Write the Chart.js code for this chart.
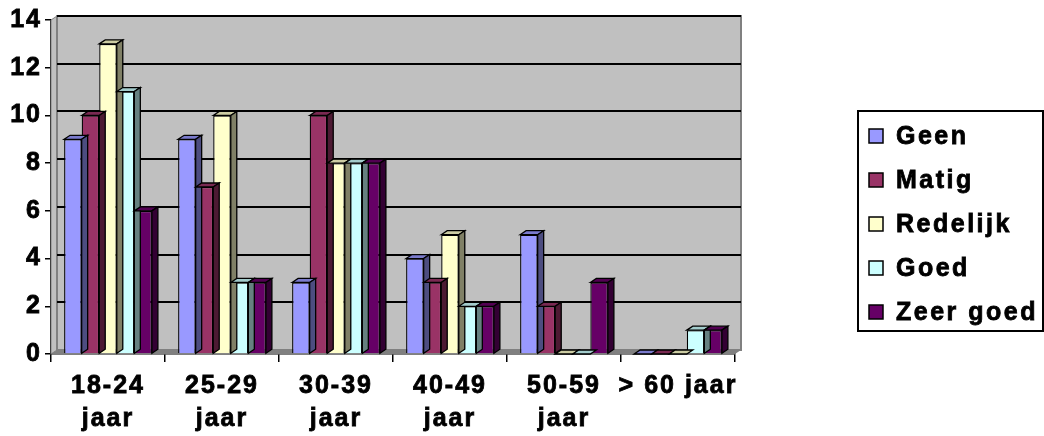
<!DOCTYPE html>
<html>
<head>
<meta charset="utf-8">
<script src="https://cdn.jsdelivr.net/npm/chart.js@4/dist/chart.umd.min.js"></script>
<style>
  body { margin: 0; background: #fff; }
  #wrap { width: 1044px; height: 436px; position: relative; }
</style>
</head>
<body>
<div id="wrap"><canvas id="chart1"></canvas></div>
<script>
const categories = [['18-24', 'jaar'], ['25-29', 'jaar'], ['30-39', 'jaar'], ['40-49', 'jaar'], ['50-59', 'jaar'], '> 60 jaar'];
const seriesNames = ['Geen', 'Matig', 'Redelijk', 'Goed', 'Zeer goed'];
const geen = [9, 9, 3, 4, 5, 0];
const matig = [10, 7, 10, 3, 2, 0];
const redelijk = [13, 10, 8, 5, 0, 0];
const goed = [11, 3, 8, 2, 0, 1];
const zeerGoed = [6, 3, 8, 2, 3, 1];
const colors = ['#9999FF', '#993366', '#FFFFCC', '#CCFFFF', '#660066'];

const DX = 6, DY = -4;
const FAMILY = '"Liberation Sans", Arial, sans-serif';
const FONT = 'bold 25px ' + FAMILY;

function shade(hex, f) {
    const n = parseInt(hex.slice(1), 16);
    const r = Math.round(((n >> 16) & 255) * f);
    const g = Math.round(((n >> 8) & 255) * f);
    const b = Math.round((n & 255) * f);
    return `rgb(${r},${g},${b})`;
}

// back wall, floor, gridlines and bar sides drawn with a small 3D offset
const wallPlugin = {
    id: 'wall',
    beforeDraw(chart) {
        chart.ctx.letterSpacing = '2px';
    },
    beforeDatasetsDraw(chart) {
        const { ctx, chartArea: a, scales } = chart;
        ctx.save();
        // left wall
        ctx.fillStyle = '#C0C0C0';
        ctx.beginPath();
        ctx.moveTo(a.left, a.top);
        ctx.lineTo(a.left + DX, a.top + DY);
        ctx.lineTo(a.left + DX, a.bottom + DY);
        ctx.lineTo(a.left, a.bottom);
        ctx.closePath();
        ctx.fill();
        ctx.strokeStyle = '#808080';
        ctx.lineWidth = 1;
        ctx.stroke();
        // back wall
        ctx.fillStyle = '#C0C0C0';
        ctx.fillRect(a.left + DX, a.top + DY, a.right - a.left, a.bottom - a.top);
        ctx.strokeStyle = '#808080';
        ctx.lineWidth = 2;
        ctx.strokeRect(a.left + DX, a.top + DY, a.right - a.left, a.bottom - a.top);
        // floor
        ctx.fillStyle = '#808080';
        ctx.beginPath();
        ctx.moveTo(a.left, a.bottom);
        ctx.lineTo(a.right, a.bottom);
        ctx.lineTo(a.right + DX, a.bottom + DY);
        ctx.lineTo(a.left + DX, a.bottom + DY);
        ctx.closePath();
        ctx.fill();
        // gridlines
        ctx.strokeStyle = '#000';
        ctx.lineWidth = 2;
        scales.y.ticks.forEach(t => {
            if (t.value === 0) return;
            const y = Math.round(scales.y.getPixelForValue(t.value) + DY);
            ctx.beginPath();
            ctx.moveTo(a.left + DX, y);
            ctx.lineTo(a.right + DX, y);
            ctx.stroke();
        });
        ctx.restore();
    },
    afterDatasetsDraw(chart) {
        const ctx = chart.ctx;
        ctx.save();
        ctx.lineWidth = 1.3;
        ctx.strokeStyle = '#000';
        chart.data.datasets.forEach((ds, i) => {
            chart.getDatasetMeta(i).data.forEach(bar => {
                const p = bar.getProps(['x', 'y', 'base', 'width'], true);
                const l = p.x - p.width / 2, r = p.x + p.width / 2, t = p.y, b = p.base;
                // top face
                ctx.fillStyle = shade(ds.backgroundColor, 0.8);
                ctx.beginPath();
                ctx.moveTo(l, t);
                ctx.lineTo(l + DX, t + DY);
                ctx.lineTo(r + DX, t + DY);
                ctx.lineTo(r, t);
                ctx.closePath();
                ctx.fill();
                ctx.stroke();
                // right side
                if (b - t > 0.5) {
                    ctx.fillStyle = shade(ds.backgroundColor, 0.5);
                    ctx.beginPath();
                    ctx.moveTo(r, t);
                    ctx.lineTo(r + DX, t + DY);
                    ctx.lineTo(r + DX, b + DY);
                    ctx.lineTo(r, b);
                    ctx.closePath();
                    ctx.fill();
                    ctx.stroke();
                }
            });
        });
        ctx.restore();
    },
    afterDraw(chart) {
        const ctx = chart.ctx;
        ctx.save();
        // legend box
        const bx = 858, by = 111, bw = 185, bh = 220;
        ctx.fillStyle = '#fff';
        ctx.fillRect(bx, by, bw, bh);
        ctx.strokeStyle = '#000';
        ctx.lineWidth = 2;
        ctx.strokeRect(bx, by, bw, bh);
        ctx.font = FONT;
        ctx.textBaseline = 'middle';
        ctx.letterSpacing = '2.5px';
        chart.data.datasets.forEach((ds, i) => {
            const cy = 136 + i * 44;
            ctx.fillStyle = ds.backgroundColor;
            ctx.fillRect(869, cy - 7, 14, 14);
            ctx.lineWidth = 1.5;
            ctx.strokeRect(869, cy - 7, 14, 14);
            ctx.fillStyle = '#000';
            ctx.lineWidth = 0.8;
            ctx.fillText(ds.label, 896, cy + 1);
            ctx.strokeText(ds.label, 896, cy + 1);
        });
        ctx.restore();
    }
};

const seriesData = [geen, matig, redelijk, goed, zeerGoed];

new Chart(document.getElementById('chart1'), {
    type: 'bar',
    data: {
        labels: categories,
        datasets: seriesNames.map((name, i) => ({
            label: name,
            data: seriesData[i],
            backgroundColor: colors[i],
            borderColor: '#000',
            borderWidth: 1.3,
            categoryPercentage: 0.77,
            barPercentage: 1
        }))
    },
    options: {
        responsive: true,
        maintainAspectRatio: false,
        animation: false,
        layout: { padding: { left: 0, top: 20, right: 309, bottom: 0 } },
        plugins: {
            legend: { display: false },
            tooltip: { enabled: false }
        },
        scales: {
            x: {
                grid: { drawOnChartArea: false, drawTicks: true, tickLength: 8, color: '#000', lineWidth: 1.5 },
                border: { color: '#000', width: 1.5 },
                ticks: {
                    color: '#000',
                    textStrokeColor: '#000',
                    textStrokeWidth: 0.8,
                    font: { family: FAMILY, size: 25, weight: 'bold', lineHeight: 1.3 },
                    padding: 8,
                    maxRotation: 0,
                    autoSkip: false
                },
                afterFit: s => { s.height = 82; }
            },
            y: {
                min: 0,
                max: 14,
                grid: { drawOnChartArea: false, drawTicks: true, tickLength: 6, color: '#000', lineWidth: 1.5 },
                border: { color: '#000', width: 1.5 },
                ticks: {
                    stepSize: 2,
                    color: '#000',
                    textStrokeColor: '#000',
                    textStrokeWidth: 0.8,
                    font: { family: FAMILY, size: 25, weight: 'bold' },
                    padding: 3
                },
                afterFit: s => { s.width = 51; }
            }
        }
    },
    plugins: [wallPlugin]
});
</script>
</body>
</html>
